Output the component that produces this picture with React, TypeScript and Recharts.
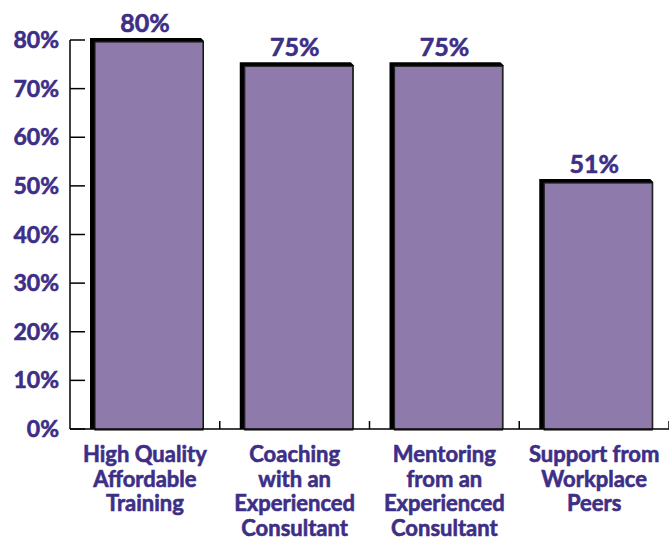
import React from 'react';
import { BarChart, Bar, XAxis, YAxis, LabelList } from 'recharts';

// survey shares, one bar per support type
const categories = [
  'High Quality\nAffordable\nTraining',
  'Coaching\nwith an\nExperienced\nConsultant',
  'Mentoring\nfrom an\nExperienced\nConsultant',
  'Support from\nWorkplace\nPeers',
];
const shares = [80, 75, 75, 51];
const yTicks = [0, 10, 20, 30, 40, 50, 60, 70, 80];

const data = categories.map((name, i) => ({ name, share: shares[i] }));

const PURPLE = '#8e7bab';
const INK = '#3d2e86';
const FONT = 'Lato, "Open Sans", sans-serif';

const ShadowBar = (props: any) => {
  const { x, y, width, height } = props;
  const bx = x + 2;
  return (
    <g>
      <path
        d={`M${bx},${y + height} L${bx},${y - 2} L${bx + width - 3},${y - 2} L${bx + width},${y + 1} L${bx + width},${y + height} Z`}
        fill="#000"
      />
      <rect
        x={bx + 5}
        y={y + 2}
        width={width - 6}
        height={height - 1}
        fill={PURPLE}
        stroke="#222"
        strokeWidth={1.2}
      />
    </g>
  );
};

const YTick = ({ x, y, payload }: any) => (
  <g>
    <text
      x={x}
      y={y}
      dy={8}
      textAnchor="end"
      fill={INK}
      stroke={INK}
      strokeWidth={0.6}
      fontSize={23}
      fontWeight={700}
      fontFamily={FONT}
    >
      {payload.value}%
    </text>
    <line x1={x + 11} x2={x + 26} y1={y} y2={y} stroke="#000" strokeWidth={1.5} />
  </g>
);

const XTick = ({ x, y, payload }: any) => {
  const lines = String(payload.value).split('\n');
  const half = payload.offset || 75;
  return (
    <g>
      {lines.map((line, i) => (
        <text
          key={i}
          x={x}
          y={y + 33 + i * 24.5}
          textAnchor="middle"
          fill={INK}
          stroke={INK}
          strokeWidth={0.6}
          fontSize={22}
          fontWeight={700}
          fontFamily={FONT}
        >
          {line}
        </text>
      ))}
      <line x1={x + half} x2={x + half} y1={y} y2={y - 8} stroke="#000" strokeWidth={1.5} />
    </g>
  );
};

export default function App() {
  return (
    <div style={{ position: 'absolute', left: 0, top: 0, background: '#fff' }}>
      <BarChart
        width={669}
        height={540}
        data={data}
        margin={{ top: 40, right: 0, bottom: 0, left: 0 }}
        barSize={114}
      >
        <XAxis
          dataKey="name"
          height={111}
          interval={0}
          tickSize={0}
          tickMargin={0}
          axisLine={{ stroke: '#000', strokeWidth: 1.5 }}
          tick={<XTick />}
        />
        <YAxis
          width={70}
          domain={[0, 80]}
          ticks={yTicks}
          interval={0}
          tickSize={0}
          tickMargin={11}
          axisLine={{ stroke: '#000', strokeWidth: 1.5 }}
          tick={<YTick />}
        />
        <Bar dataKey="share" shape={<ShadowBar />} isAnimationActive={false}>
          <LabelList
            dataKey="share"
            position="top"
            offset={8}
            formatter={(v: any) => `${v}%`}
            fill={INK}
            stroke={INK}
            strokeWidth={0.6}
            fontSize={25}
            fontWeight={700}
            fontFamily={FONT}
          />
        </Bar>
      </BarChart>
    </div>
  );
}
